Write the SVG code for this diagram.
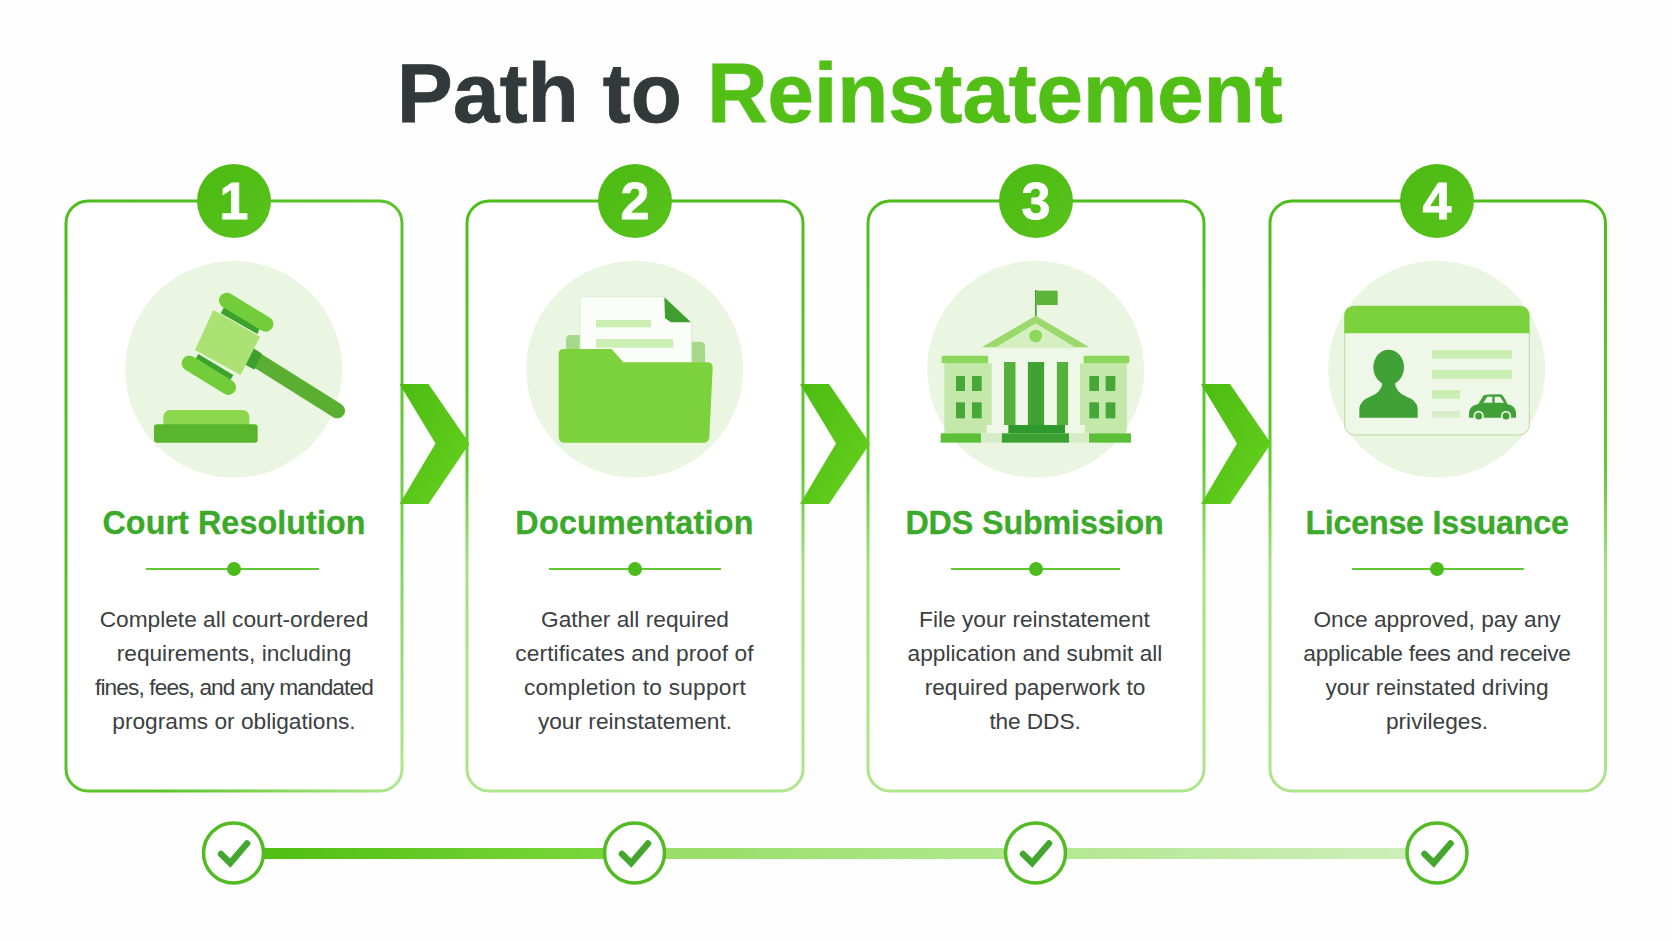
<svg xmlns="http://www.w3.org/2000/svg" width="1672" height="941" viewBox="0 0 1672 941">
<style>
text{font-family:"Liberation Sans",Arial,sans-serif}
.title{font-size:83.5px;font-weight:700;stroke-width:.8}
.num{font-size:52px;font-weight:700;fill:#fff;text-anchor:middle;stroke:#fff;stroke-width:.8}
.head{font-size:32.3px;font-weight:700;fill:#3ba92a;stroke:#3ba92a;stroke-width:.3;text-anchor:middle}
.body{font-size:22.7px;fill:#3b4041;text-anchor:middle}
.card{fill:#fff;stroke-width:3}
.halo{fill:#eaf6e2}
.rule{stroke:#62c832;stroke-width:2;fill:none}
.dot{fill:#4cbb1c}
.badge{fill:url(#gBadge)}
.chev{fill:url(#gChev)}
.ring{fill:#fff;stroke:#52bb24;stroke-width:3.5}
.tick{fill:none;stroke:#43a72f;stroke-width:6.500;stroke-linecap:round;stroke-linejoin:miter}
.lite{fill:#cbeeb2}
</style>
<defs>
<linearGradient id="gCard1" x1="0" y1="0" x2="1" y2="1"><stop offset="0" stop-color="#4dbd1c"/><stop offset=".65" stop-color="#5cc52a"/><stop offset="1" stop-color="#b2e891"/></linearGradient>
<linearGradient id="gCard" x1="0" y1="0" x2="0" y2="1"><stop offset="0" stop-color="#4dbd1c"/><stop offset=".45" stop-color="#62c832"/><stop offset=".62" stop-color="#a3e27c"/><stop offset="1" stop-color="#aee68a"/></linearGradient>
<linearGradient id="gBadge" x1="0" y1="0" x2="1" y2="1"><stop offset="0" stop-color="#4bba12"/><stop offset="1" stop-color="#58c31c"/></linearGradient>
<linearGradient id="gChev" x1="0" y1="0" x2="1" y2="1"><stop offset="0" stop-color="#4cbc12"/><stop offset="1" stop-color="#67d11e"/></linearGradient>
<linearGradient id="gSeg1"><stop offset="0" stop-color="#4fbe12"/><stop offset="1" stop-color="#7bd63c"/></linearGradient>
<linearGradient id="gSeg2"><stop offset="0" stop-color="#97dd66"/><stop offset="1" stop-color="#b0e88c"/></linearGradient>
<linearGradient id="gSeg3"><stop offset="0" stop-color="#b5e794"/><stop offset="1" stop-color="#cdeeb8"/></linearGradient>
<polygon id="chevShape" points="0,0 29,0 70,59.500 29,120 0,120 36,59.500"/>
<g id="tickRing"><circle r="30" class="ring"/><path class="tick" d="M-12.500,1 L-3.300,10 L13.500,-9.500"/></g>
</defs>
<rect width="1672" height="941" fill="#fefefe"/>
<text id="title" class="title" y="122"><tspan x="397" fill="#31393a" stroke="#31393a" letter-spacing=".3">Path to</tspan><tspan x="707.200" fill="#52bf17" stroke="#52bf17">Reinstatement</tspan></text>

<g id="step-1">
<rect class="card" x="66" y="201" width="336" height="590" rx="22" stroke="url(#gCard1)"/>
<circle class="badge" cx="234" cy="201" r="37"/><text class="num" x="234" y="219">1</text>
<circle class="halo" cx="233.700" cy="369.300" r="108.500"/>
<g transform="translate(0,150) scale(.33333)">
<rect x="490" y="780" width="258" height="60" rx="20" fill="#8bd84f"/>
<rect x="462" y="823" width="311" height="55" rx="9" fill="#58b52c"/>
<path d="M778,635 L1012,782" stroke="#5aae32" stroke-width="46" stroke-linecap="round"/>
<polygon points="755,595 782,612 762,655 735,640" fill="#3e9e2e" stroke="#3e9e2e" stroke-width="6" stroke-linejoin="round"/>
<polygon points="640,480 780,560 722,675 585,600" fill="#ace174"/>
<polygon points="672,472 780,535 772,552 662,490" fill="#3ba32c"/>
<polygon points="595,612 700,675 690,692 585,630" fill="#3ba32c"/>
<path d="M680,451 L797,522 M568,640 L685,712" stroke="#73cd3a" stroke-width="46" stroke-linecap="round"/>
</g>
<text class="head" x="234" y="534" letter-spacing=".07">Court Resolution</text>
<path class="rule" d="M146,569 H319"/><circle class="dot" cx="234" cy="569" r="7"/>
<text class="body" y="627"><tspan x="234">Complete all court-ordered</tspan><tspan x="234" dy="34">requirements, including</tspan><tspan x="234" dy="34" letter-spacing="-.9">fines, fees, and any mandated</tspan><tspan x="234" dy="34">programs or obligations.</tspan></text>
</g>

<g id="step-2">
<rect class="card" x="467" y="201" width="336" height="590" rx="22" stroke="url(#gCard)"/>
<circle class="badge" cx="635" cy="201" r="37"/><text class="num" x="635" y="219">2</text>
<circle class="halo" cx="634.700" cy="369.300" r="108.500"/>
<g transform="translate(470,150) scale(.33333)">
<path d="M288,640 V570 Q288,555 303,555 H400 V575 H690 Q705,575 705,590 V640 Z" fill="#a5d989"/>
<path d="M330,610 V450 Q330,440 340,440 H583 L665,517 V650 H330 Z" fill="#fbfdf9" stroke="#cfe8bf" stroke-width="2"/>
<polygon points="583,442 663,517 603,517 585,505" fill="#3f9e2e"/>
<rect class="lite" x="378" y="510" width="165" height="22"/>
<rect class="lite" x="378" y="567" width="232" height="26" rx="3"/>
<path d="M266,612 Q266,597 281,597 H425 L460,637 H712 Q728,637 728,653 L718,860 Q717,878 700,878 H284 Q266,878 266,860 Z" fill="#7cd23c"/>
</g>
<text class="head" x="634.500" y="534" letter-spacing=".25">Documentation</text>
<path class="rule" d="M549,569 H721"/><circle class="dot" cx="635" cy="569" r="7"/>
<text class="body" y="627"><tspan x="635">Gather all required</tspan><tspan x="634.500" dy="34" letter-spacing=".1">certificates and proof of</tspan><tspan x="635" dy="34" letter-spacing=".25">completion to support</tspan><tspan x="635" dy="34">your reinstatement.</tspan></text>
</g>

<g id="step-3">
<rect class="card" x="868" y="201" width="336" height="590" rx="22" stroke="url(#gCard)"/>
<circle class="badge" cx="1036" cy="201" r="37"/><text class="num" x="1036" y="219">3</text>
<circle class="halo" cx="1035.700" cy="369.300" r="108.500"/>
<g transform="translate(870,150) scale(.33333)">
<rect x="495" y="420" width="5" height="78" fill="#3f9e2e"/>
<rect x="500" y="422" width="63" height="43" fill="#5cb53a"/>
<polygon points="497,497 658,592 335,592" fill="#9bd96d"/>
<polygon points="497,520 615,592 378,592" fill="#d5efc0"/>
<circle cx="497" cy="558" r="19" fill="#8bd85a"/>
<rect x="223" y="640" width="150" height="210" fill="#c3e8aa"/>
<rect x="625" y="640" width="145" height="210" fill="#c3e8aa"/>
<rect x="215" y="617" width="140" height="23" rx="5" fill="#8bd85a"/>
<rect x="640" y="617" width="138" height="23" rx="5" fill="#8bd85a"/>
<g fill="#45a838"><rect x="258" y="678" width="27" height="45"/><rect x="306" y="678" width="29" height="45"/><rect x="258" y="757" width="27" height="48"/><rect x="306" y="757" width="29" height="48"/><rect x="658" y="678" width="29" height="45"/><rect x="707" y="678" width="29" height="45"/><rect x="658" y="757" width="29" height="48"/><rect x="707" y="757" width="29" height="48"/></g>
<rect x="398" y="635" width="39" height="190" fill="#55b03c"/>
<rect x="473" y="635" width="50" height="190" fill="#3fa233"/>
<rect x="560" y="635" width="35" height="190" fill="#55b03c"/>
<g fill="#eef7e8"><rect x="365" y="635" width="37" height="190"/><rect x="437" y="635" width="36" height="190"/><rect x="523" y="635" width="37" height="190"/><rect x="595" y="635" width="35" height="190"/><rect x="355" y="598" width="285" height="38"/><rect x="350" y="825" width="63" height="25"/><rect x="590" y="825" width="55" height="25"/></g>
<rect x="415" y="825" width="170" height="25" fill="#2f9a2b"/>
<rect x="395" y="850" width="202" height="28" fill="#3aa232"/>
<rect x="212" y="850" width="121" height="28" fill="#5cbf38"/>
<rect x="657" y="850" width="126" height="28" fill="#5cbf38"/>
<rect x="335" y="850" width="60" height="28" fill="#d6ecc7"/>
<rect x="598" y="850" width="57" height="28" fill="#d6ecc7"/>
</g>
<text class="head" x="1034.500" y="534" letter-spacing="-.15">DDS Submission</text>
<path class="rule" d="M951,569 H1120"/><circle class="dot" cx="1036" cy="569" r="7"/>
<text class="body" y="627"><tspan x="1034.500">File your reinstatement</tspan><tspan x="1035" dy="34">application and submit all</tspan><tspan x="1035" dy="34">required paperwork to</tspan><tspan x="1035" dy="34" letter-spacing="-.1">the DDS.</tspan></text>
</g>

<g id="step-4">
<rect class="card" x="1270" y="201" width="335.500" height="590" rx="22" stroke="url(#gCard)"/>
<circle class="badge" cx="1437" cy="201" r="37"/><text class="num" x="1437" y="219">4</text>
<circle class="halo" cx="1436.700" cy="369.300" r="108.500"/>
<g transform="translate(1270,150) scale(.33333)">
<rect x="224" y="468" width="554" height="387" rx="30" fill="#eef7e8" stroke="#b5dd9c" stroke-width="3"/>
<path d="M223,550 V498 Q223,468 253,468 H748 Q778,468 778,498 V550 Z" fill="#7cd23c"/>
<ellipse cx="356" cy="652" rx="46" ry="53" fill="#3fa136"/>
<path d="M268,803 V775 Q272,750 300,740 Q335,728 338,695 H374 Q377,728 410,740 Q440,750 443,775 V803 Z" fill="#3fa136"/>
<rect class="lite" x="486" y="600" width="240" height="26"/>
<rect class="lite" x="486" y="660" width="240" height="26"/>
<rect class="lite" x="486" y="720" width="84" height="26"/>
<rect x="486" y="783" width="84" height="20" fill="#d8eeca"/>
<path d="M597,790 Q597,768 625,762 L640,737 Q645,733 690,733 Q700,733 712,762 Q738,768 738,790 V803 H597 Z" fill="#3fa136"/>
<path d="M640,758 L652,740 H667 V758 Z M674,740 H690 L702,758 H674 Z" fill="#eef7e8"/>
<circle cx="626" cy="798" r="13" fill="#3fa136" stroke="#eef7e8" stroke-width="5"/>
<circle cx="708" cy="798" r="13" fill="#3fa136" stroke="#eef7e8" stroke-width="5"/>
</g>
<text class="head" x="1437" y="534" letter-spacing="-.27">License Issuance</text>
<path class="rule" d="M1352,569 H1524"/><circle class="dot" cx="1437" cy="569" r="7"/>
<text class="body" y="627"><tspan x="1437">Once approved, pay any</tspan><tspan x="1437" dy="34" letter-spacing="-.28">applicable fees and receive</tspan><tspan x="1437" dy="34">your reinstated driving</tspan><tspan x="1437" dy="34">privileges.</tspan></text>
</g>

<g id="connectors">
<use href="#chevShape" class="chev" x="399.500" y="384"/>
<use href="#chevShape" class="chev" x="800" y="384"/>
<use href="#chevShape" class="chev" x="1201" y="384"/>
<rect x="263" y="848" width="342" height="11" fill="url(#gSeg1)"/>
<rect x="664" y="848" width="342" height="11" fill="url(#gSeg2)"/>
<rect x="1065" y="848" width="343" height="11" fill="url(#gSeg3)"/>
</g>

<g id="check-1"><use href="#tickRing" x="233.500" y="853"/></g>
<g id="check-2"><use href="#tickRing" x="634.500" y="853"/></g>
<g id="check-3"><use href="#tickRing" x="1035.500" y="853"/></g>
<g id="check-4"><use href="#tickRing" x="1437" y="853"/></g>
</svg>
